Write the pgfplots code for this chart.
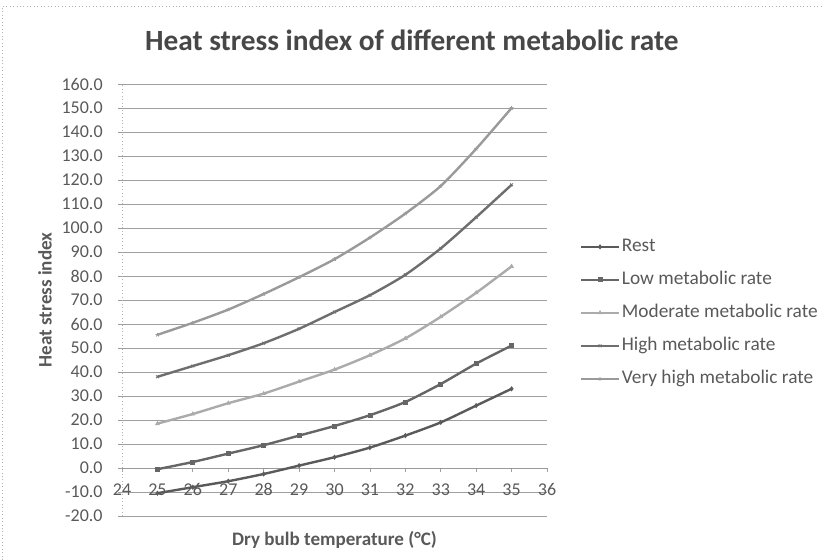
\documentclass[border=0pt]{standalone}
\usepackage{pgfplots}
\pgfplotsset{compat=1.18}
\usepackage{fontspec}
\setmainfont{Carlito}
\definecolor{txt}{HTML}{595959}
\definecolor{ttl}{HTML}{474747}
\definecolor{cRest}{HTML}{5A5A5A}
\definecolor{cLow}{HTML}{666666}
\definecolor{cMod}{HTML}{ABABAB}
\definecolor{cHigh}{HTML}{6E6E6E}
\definecolor{cVHigh}{HTML}{9A9A9A}
\begin{document}
\begin{tikzpicture}
\useasboundingbox (0,0) rectangle (618pt,420pt);
\draw[gray!60, dotted, line width=0.6pt] (1.5pt,0) -- (1.5pt,415.5pt) -- (618pt,415.5pt);
\begin{axis}[
  at={(91.5pt,33pt)}, anchor=south west,
  width=318.75pt, height=324pt, scale only axis,
  xmin=24, xmax=36, ymin=-20, ymax=160,
  xtick={24,25,...,36}, ytick={-20,-10,...,160},
  axis x line*=middle, axis y line*=left,
  hide obscured x ticks=false,
  x axis line style={gray!80, line width=0.6pt},
  y axis line style={gray!60, dotted, line width=0.6pt},
  ymajorgrids, major grid style={gray!75, line width=0.6pt},
  tick align=outside, major tick length=3pt,
  tick style={gray!75, line width=0.6pt},
  /pgf/number format/assume math mode=true,
  ticklabel style={font=\fontsize{13.5}{15}\selectfont, text=txt},
  y tick label style={/pgf/number format/fixed, /pgf/number format/fixed zerofill, /pgf/number format/precision=1, xshift=-8pt},
  x tick label style={yshift=-5pt},
  xlabel={Dry bulb temperature (°C)},
  ylabel={Heat stress index},
  label style={font=\bfseries\fontsize{14.3}{16}\selectfont, text=txt},
  xlabel style={at={(axis description cs:0.5,-0.056)}, anchor=center},
  ylabel style={at={(axis description cs:-0.181,0.5)}, anchor=center},
  title={Heat stress index of different metabolic rate},
  title style={font=\bfseries\fontsize{22}{25}\selectfont, text=ttl, at={(axis description cs:0.682,1.082)}, anchor=center},
  legend style={at={(axis description cs:1.068,0.653)}, anchor=north west, draw=none, fill=none,
    font=\fontsize{14.5}{16}\selectfont, text=txt, row sep=9.75pt,
    nodes={inner sep=1pt, text height=10pt, text depth=3pt}},
  legend cell align=left,
  legend image code/.code={\draw[#1] (0pt,0pt) -- (28.5pt,0pt); \draw[#1, only marks] plot coordinates {(14pt,0pt)};},
  every axis plot/.append style={line width=1.8pt, smooth, tension=0.4, mark size=1.5pt, mark options={solid, line width=0.6pt}},
  clip=false,
]
\addplot[cRest, mark=diamond*] coordinates {
(25,-10.5) (26,-8) (27,-5.5) (28,-2.5) (29,1) (30,4.5) (31,8.5) (32,13.5) (33,19) (34,26) (35,33)};
\addlegendentry{Rest}
\addplot[cLow, mark=square*] coordinates {
(25,-0.5) (26,2.5) (27,6) (28,9.5) (29,13.5) (30,17.5) (31,22) (32,27.5) (33,35) (34,43.5) (35,51)};
\addlegendentry{Low metabolic rate}
\addplot[cMod, mark=triangle*] coordinates {
(25,18.5) (26,22.5) (27,27) (28,31) (29,36) (30,41) (31,47) (32,54) (33,63) (34,73) (35,84)};
\addlegendentry{Moderate metabolic rate}
\addplot[cHigh, mark=x] coordinates {
(25,38) (26,42.5) (27,47) (28,52) (29,58) (30,65) (31,72) (32,80.5) (33,91.5) (34,104.5) (35,118)};
\addlegendentry{High metabolic rate}
\addplot[cVHigh, mark=star] coordinates {
(25,55.5) (26,60.5) (27,66) (28,72.5) (29,79.5) (30,87) (31,96) (32,106) (33,117.5) (34,133) (35,150)};
\addlegendentry{Very high metabolic rate}
\end{axis}
\end{tikzpicture}
\end{document}
